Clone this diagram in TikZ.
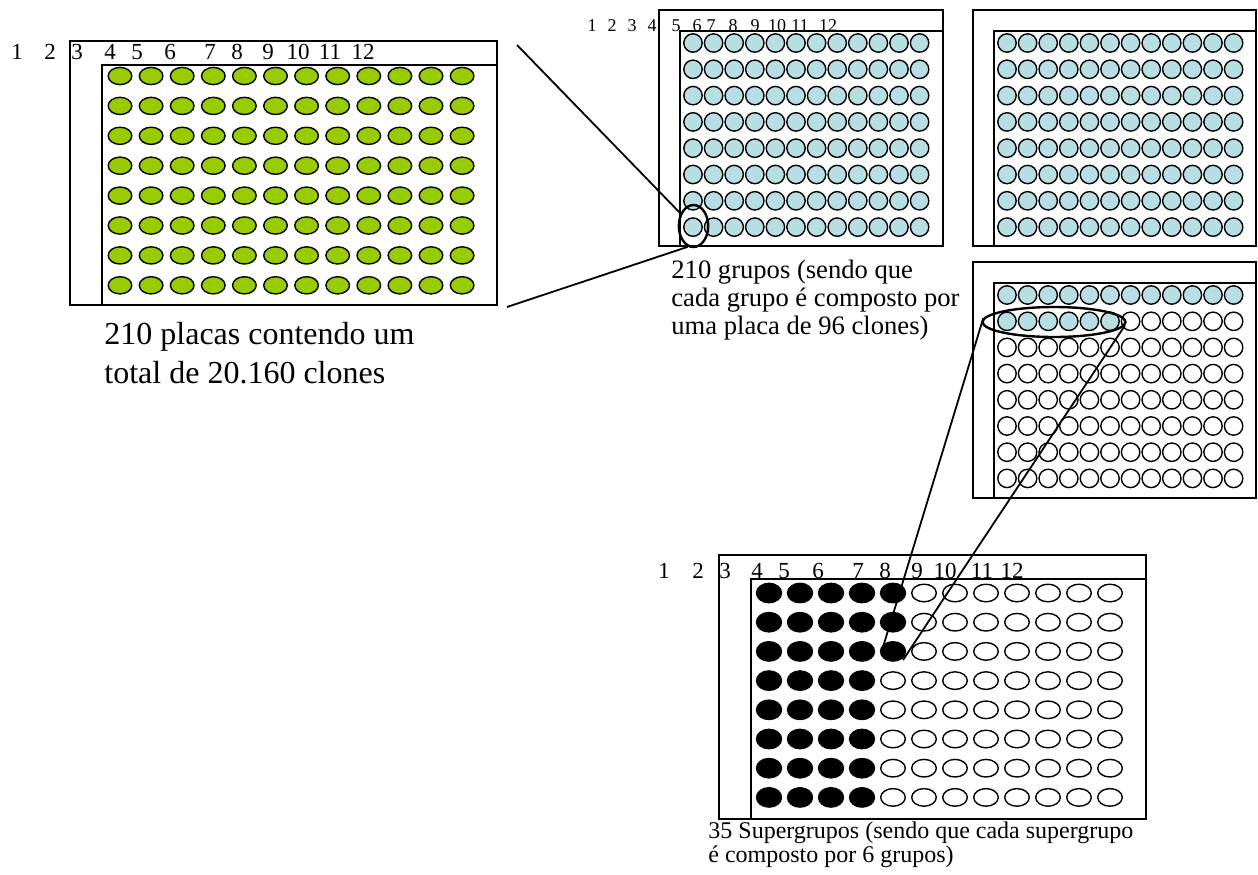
\documentclass[tikz,border=0pt]{standalone}
\usepackage{fontspec}
\setmainfont{Liberation Serif}
\usetikzlibrary{shapes.geometric}
\definecolor{lime}{HTML}{99CC00}
\definecolor{aqua}{HTML}{B7DEE3}

\begin{document}
\begin{tikzpicture}[
    x=0.5pt, y=-0.5pt,
    plate/.style={draw=black, line width=0.8pt},
    greenwell/.style={draw=black, fill=lime, line width=0.7pt},
    aquawell/.style={draw=black, fill=aqua, line width=0.7pt},
    emptywell/.style={draw=black, fill=white, line width=0.7pt},
    blackwell/.style={draw=black, fill=black, line width=0.7pt},
    markring/.style={draw=black, ellipse, line width=1.2pt, inner sep=0pt},
    link/.style={black, line width=0.9pt},
    bignum/.style={inner sep=0pt, font=\fontsize{11.5}{12}\selectfont},
    smallnum/.style={inner sep=0pt, font=\fontsize{9}{10}\selectfont},
    caption/.style={inner sep=0pt, anchor=base west, align=left}
]
\useasboundingbox (0,0) rectangle (1258,874);

% 210 plates
\draw[plate] (70,41) rectangle (497,305);
\draw[plate] (102,65) rectangle (497,305);
\foreach \x/\n in {17/1,50/2,77/3,110/4,137/5,170/6,210/7,237/8,268/9,298/10,330/11,363/12}
    \node[bignum] at (\x,52) {\n};
\foreach \r in {0,...,7}
    \foreach \c in {0,...,11}
        \draw[greenwell] ({120+31.1*\c},{76+29.9*\r}) ellipse [x radius=11.8, y radius=8.6];
\node[caption, font=\fontsize{16}{19.5}\selectfont] (platesText) at (104,383)
    {210 placas contendo um\\total de 20.160 clones};

% groups
\draw[plate] (659,10) rectangle (943,246);
\draw[plate] (680,31) rectangle (943,246);
\foreach \x/\n in {592/1,612/2,632/3,652/4,676/5,697/6,711/7,733/8,755/9,777/10,800/11,828/12}
    \node[smallnum] at (\x,26) {\n};
\foreach \r in {0,...,7}
    \foreach \c in {0,...,11}
        \draw[aquawell] ({693+20.6*\c},{43+26.3*\r}) circle [radius=9.2];

\draw[plate] (973,10) rectangle (1256,246);
\draw[plate] (994,31) rectangle (1256,246);
\foreach \r in {0,...,7}
    \foreach \c in {0,...,11}
        \draw[aquawell] ({1007+20.6*\c},{43+26.3*\r}) circle [radius=9.2];

\node[caption, font=\fontsize{13.3}{14}\selectfont] (groupsText) at (671,334)
    {210 grupos (sendo que\\cada grupo é composto por\\uma placa de 96 clones)};

% one group being pooled
\draw[plate] (973,262) rectangle (1256,498);
\draw[plate] (994,283) rectangle (1256,498);
\foreach \c in {0,...,11}
    \draw[aquawell] ({1007+20.6*\c},295) circle [radius=9.2];
\foreach \c in {0,...,5}
    \draw[aquawell] ({1007+20.6*\c},321.3) circle [radius=9.2];
\foreach \c in {6,...,11}
    \draw[emptywell] ({1007+20.6*\c},321.3) circle [radius=9.2];
\foreach \r in {2,...,7}
    \foreach \c in {0,...,11}
        \draw[emptywell] ({1007+20.6*\c},{295+26.2*\r}) circle [radius=9.2];

% supergroups
\draw[plate] (719,555) rectangle (1146,819);
\draw[plate] (751,579) rectangle (1146,819);
\foreach \x/\n in {664/1,698/2,725/3,757/4,784/5,818/6,858/7,885/8,917/9,945/10,982/11,1012/12}
    \node[bignum] at (\x,571) {\n};
\foreach \r in {0,...,7}
    \foreach \c in {0,...,3}
        \draw[blackwell] ({769+31*\c},{593+29.2*\r}) ellipse [x radius=12.5, y radius=9.7];
\foreach \r in {0,...,2}
    \draw[blackwell] (893,{593+29.2*\r}) ellipse [x radius=12.5, y radius=9.7];
\foreach \r in {3,...,7}
    \draw[emptywell] (893,{593+29.2*\r}) ellipse [x radius=12.3, y radius=8.8];
\foreach \r in {0,...,7}
    \foreach \c in {5,...,11}
        \draw[emptywell] ({769+31*\c},{593+29.2*\r}) ellipse [x radius=12.3, y radius=8.8];
\node[caption, font=\fontsize{12}{11.8}\selectfont] (superText) at (708,862)
    {35 Supergrupos (sendo que cada supergrupo\\é composto por 6 grupos)};

% markers and links
\node[markring, minimum width=14.7pt, minimum height=21pt] (grpMark) at (693.5,226) {};
\node[markring, minimum width=71.5pt, minimum height=15pt] (supMark) at (1054,322) {};
\coordinate (plateTop) at (517,45);
\coordinate (plateBot) at (507,307);
\coordinate (superA) at (883,647);
\coordinate (superB) at (903,660);
\draw[link] (plateTop) -- (grpMark.136);
\draw[link] (plateBot) -- (grpMark.255);
\draw[link] (supMark.177) -- (superA);
\draw[link] (supMark.-3) -- (superB);

\end{tikzpicture}
\end{document}
